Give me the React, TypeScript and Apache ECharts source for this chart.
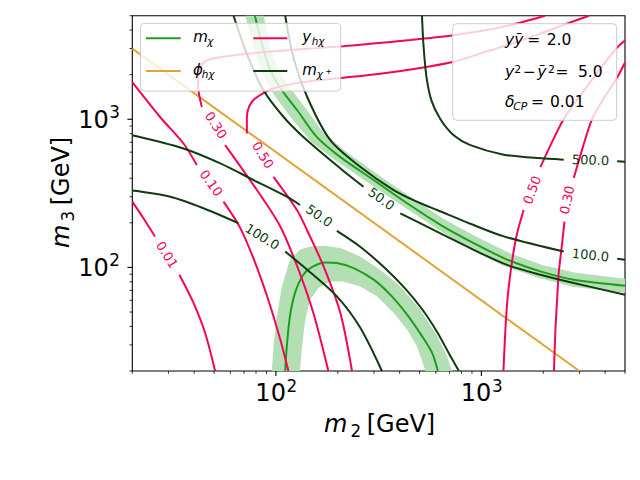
import React, { useEffect, useRef } from 'react';
import * as echarts from 'echarts';

// ---------- axes ----------
const X_MIN = 20;
const X_MAX = 5000;
const Y_MIN = 20;
const Y_MAX = 5000;
const xMajorTicks = [100, 1000];
const yMajorTicks = [100, 1000];
const xMinorTicks = [20, 30, 40, 50, 60, 70, 80, 90, 200, 300, 400, 500, 600, 700, 800, 900, 2000, 3000, 4000, 5000];
const yMinorTicks = [20, 30, 40, 50, 60, 70, 80, 90, 200, 300, 400, 500, 600, 700, 800, 900, 2000, 3000, 4000, 5000];

// ---------- phi_hχ ----------
const phiHChi = [[20, 3000], [3000, 20]];

// ---------- m_χ central curves ----------
const mChiUpper = [[79, 5000], [85.5, 3230], [94, 2140], [107, 1570], [127, 1150], [158, 760], [206, 555], [299, 389], [435, 271], [632, 194], [917, 146], [1334, 113], [1938, 94], [2816, 82.6], [5000, 75.3]];
const mChiArc = [[111, 20], [113, 29.4], [117, 46.8], [124, 67.6], [136, 89.3], [152, 101.6], [174, 108], [198, 107], [239, 99], [299, 82.7], [360, 65.5], [435, 48], [514, 34.4], [575, 26.6], [614, 20]];

// ---------- m_χ bands ----------
const bandUpperHi = [[87.2, 5000], [92.8, 3245], [101.5, 2237], [116, 1667], [136, 1242], [168, 831], [218, 609], [311, 427], [451, 299], [653, 213], [945, 161], [1369, 125], [1982, 104], [2871, 92], [5000, 84]];
const bandUpperLo = [[70.9, 5000], [77.5, 3146], [85.8, 2039], [98.1, 1450], [117, 1048], [149, 700], [194, 530], [285, 368], [417, 258], [611, 182], [884, 132.5], [1294, 102], [1895, 85.3], [2775, 74.2], [5000, 67.6]];
const bandArcOuter = [[95.6, 20], [97.3, 29.4], [101, 46.8], [107, 74.5], [117, 112.7], [131, 131.5], [147, 138.4], [171, 140], [206, 135], [257, 118.6], [322, 96.5], [403, 74.5], [505, 51.9], [609, 34.4], [681, 25.2], [720, 20]];
const bandArcInner = [[131, 20], [134, 29.4], [139, 44.5], [147, 60.7], [161, 72.7], [184, 80.5], [213.5, 80.5], [257, 74.5], [310, 63.8], [374, 49.4], [435, 38.1], [486, 29.4], [534, 20]];

// ---------- m_χ+ contours ----------
const mCp500a = [[514, 5000], [522, 3245], [540, 1947], [571, 1342], [632, 1000], [733, 780], [884, 669], [1284, 577], [1867, 547], [2517, 534]];
const mCp500b = [[4581, 520], [5000, 516]];
const mCp100Ua = [[111, 5000], [121, 2694], [142, 1413], [184, 722], [257, 478], [374, 333], [505, 271], [609, 244], [884, 197], [1284, 162], [2517, 128]];
const mCp100Ub = [[4581, 114.4], [5000, 112.7]];
const mCp50Ua = [[62.2, 5000], [72.2, 2766], [87, 1567], [109, 1036], [136, 760], [206, 466], [267, 350.5]];
const mCp50Ub = [[403, 232], [632, 170], [917, 131.5], [1334, 104], [1938, 89.3], [2816, 78.5], [5000, 65.5]];
const mCp100La = [[20, 330], [30.6, 300], [44.4, 251], [65.7, 199]];
const mCp100Lb = [[111, 128], [142, 96.5], [198, 63.8], [257, 39.3], [328, 20]];
const mCp50La = [[20, 780], [35.5, 635], [53.6, 504], [77.8, 389], [113, 300], [131, 264]];
const mCp50Lb = [[198, 176.5], [257, 138], [334, 101], [426, 72], [516, 52], [611, 36.4], [691, 26.7], [777, 20]];

// ---------- y_hχ contours ----------
const y001a = [[20, 278], [22.65, 215], [25.8, 161.6]];
const y001b = [[33.9, 89.3], [39.7, 57.6], [45.2, 36.2], [50.6, 20]];
const y010a = [[20, 1781], [27.3, 1036], [35.5, 686], [41.2, 491]];
const y010b = [[55.6, 278], [67, 185], [79.3, 107.5], [91.7, 60.7], [105, 32.6], [115, 20]];
const y030La = [[2040, 5000], [1385, 4321], [989, 3937], [733, 3689], [451, 3424], [288, 3229], [213.5, 3111], [127, 2956], [72.2, 2766], [51.6, 2600], [45.2, 2455], [42.8, 2237], [42, 2008], [41.8, 1693], [43.6, 1210]];
const y030Lb = [[56.6, 669], [80.8, 333], [105, 189], [127, 101.6], [152, 49.4], [180, 20]];
const y050La = [[3340, 5000], [2566, 4388], [1938, 3787], [1385, 3219], [989, 2779], [733, 2443], [504.5, 2220], [322, 2029], [213.5, 1907], [147, 1809], [111, 1693], [95.9, 1604], [85.8, 1484], [78.4, 1363], [74.1, 1223], [72.2, 1031], [72.2, 801]];
const y050Lb = [[97.3, 409], [126.6, 244], [141.6, 179], [170.6, 101.6], [205.7, 49.4], [234.6, 20]];
const y050Ra = [[1280, 20], [1309, 38.1], [1339, 60.7], [1392, 96.5], [1448, 138], [1506, 179], [1607, 244]];
const y050Rb = [[1938, 475.5], [2168, 666], [2517, 1005], [3035, 1450], [3800, 2203], [4581, 3050], [5000, 3400]];
const y030Ra = [[2255, 20], [2293, 38.1], [2337, 60.7], [2379, 91.7], [2472, 146], [2537, 204]];
const y030Rb = [[2816, 401], [3087, 619], [3462, 1005], [3972, 1406], [4581, 1916], [5000, 2417]];

// ---------- contour labels: [m2, m3, text, angle°] ----------
const chargedLabels: [number, number, string, number][] = [
  [3396, 530, '500.0', -2],
  [3396, 121, '100.0', -6],
  [326, 290, '50.0', -35],
  [162.5, 223, '50.0', -35],
  [85.8, 161, '100.0', -32],
];
const yukawaLabels: [number, number, string, number][] = [
  [29.5, 121.7, '0.01', -58],
  [48.4, 371, '0.10', -54],
  [51.1, 911, '0.30', -57],
  [86.4, 573, '0.50', -58],
  [1766, 333, '0.50', 69],
  [2615, 285, '0.30', 78],
];

// ---------- colours ----------
const GREEN = '#1a9f1a';
const BAND = '#b4dfb4';
const ORANGE = '#dfa53a';
const PINK = '#f5045a';
const DARK = '#0f3b0f';
const FONT = 'DejaVu Sans';

function mt(t: string, x: number, base: number, size: number, italic = true, z = 101): any {
  return {
    type: 'text',
    x,
    y: base - 0.35 * size,
    z,
    silent: true,
    style: {
      text: t,
      fontSize: size,
      fontFamily: FONT,
      fontStyle: italic ? 'italic' : 'normal',
      fill: '#000',
      align: 'left',
      textAlign: 'left',
      verticalAlign: 'middle',
      textVerticalAlign: 'middle',
    },
  };
}

function hline(x1: number, x2: number, y: number, color: string): any {
  return { type: 'line', z: 101, silent: true, shape: { x1, y1: y, x2, y2: y }, style: { stroke: color, lineWidth: 2 } };
}

function lineSeries(data: number[][], color: string, z = 3): any {
  return {
    type: 'line',
    data,
    symbol: 'none',
    showSymbol: false,
    smooth: 0.3,
    lineStyle: { color, width: 2 },
    itemStyle: { color },
    z,
    silent: true,
    clip: true,
    emphasis: { disabled: true },
  };
}

function bandSeries(edgeA: number[][], edgeB: number[][]): any {
  return {
    type: 'custom',
    silent: true,
    z: 1,
    data: [[100, 100]],
    renderItem: (_params: any, api: any) => ({
      type: 'polygon',
      shape: { points: [...edgeA, ...edgeB.slice().reverse()].map((p) => api.coord(p)) },
      style: { fill: BAND, stroke: 'none' },
    }),
  };
}

function labelSeries(labels: [number, number, string, number][], color: string): any {
  return {
    type: 'custom',
    silent: true,
    z: 6,
    data: labels.map((l) => [l[0], l[1], l[3]]),
    renderItem: (params: any, api: any) => {
      const p = api.coord([api.value(0), api.value(1)]);
      return {
        type: 'text',
        x: p[0],
        y: p[1],
        rotation: (api.value(2) * Math.PI) / 180,
        style: {
          text: labels[params.dataIndex][2],
          fill: color,
          fontSize: 13,
          fontFamily: FONT,
          align: 'center',
          textAlign: 'center',
          verticalAlign: 'middle',
          textVerticalAlign: 'middle',
        },
      };
    },
  };
}

function tickText(t: string, x: number, y: number, size: number, align: string): any {
  return {
    type: 'text',
    x,
    y,
    style: { text: t, fontSize: size, fontFamily: FONT, fill: '#000', align, textAlign: align, verticalAlign: 'middle', textVerticalAlign: 'middle' },
  };
}

function xTickSeries(): any {
  const data = [...xMinorTicks.map((v) => [v, Y_MIN, 0]), ...xMajorTicks.map((v) => [v, Y_MIN, 1])];
  return {
    type: 'custom',
    silent: true,
    z: 10,
    data,
    renderItem: (_params: any, api: any) => {
      const v = api.value(0);
      const major = api.value(2) === 1;
      const p = api.coord([v, api.value(1)]);
      const children: any[] = [
        { type: 'line', shape: { x1: p[0], y1: p[1], x2: p[0], y2: p[1] + (major ? 4.9 : 2.8) }, style: { stroke: '#000', lineWidth: major ? 1.1 : 0.8 } },
      ];
      if (major) {
        const exp = String(Math.round(Math.log10(v)));
        children.push(tickText('10', p[0] + 10, p[1] + 22, 24, 'right'));
        children.push(tickText(exp, p[0] + 10.5, p[1] + 15, 16.8, 'left'));
      }
      return { type: 'group', children };
    },
  };
}

function yTickSeries(): any {
  const data = [...yMinorTicks.map((v) => [X_MIN, v, 0]), ...yMajorTicks.map((v) => [X_MIN, v, 1])];
  return {
    type: 'custom',
    silent: true,
    z: 10,
    data,
    renderItem: (_params: any, api: any) => {
      const v = api.value(1);
      const major = api.value(2) === 1;
      const p = api.coord([api.value(0), v]);
      const children: any[] = [
        { type: 'line', shape: { x1: p[0], y1: p[1], x2: p[0] - (major ? 4.9 : 2.8), y2: p[1] }, style: { stroke: '#000', lineWidth: major ? 1.1 : 0.8 } },
      ];
      if (major) {
        const exp = String(Math.round(Math.log10(v)));
        children.push(tickText('10', p[0] - 23.5, p[1] + 1, 24, 'right'));
        children.push(tickText(exp, p[0] - 23, p[1] - 7, 16.8, 'left'));
      }
      return { type: 'group', children };
    },
  };
}

function buildOption(): any {
  const legendLeft = [
    { type: 'rect', z: 100, silent: true, shape: { x: 140.5, y: 23.3, width: 200.2, height: 67.8, r: 4 }, style: { fill: 'rgba(255,255,255,0.8)', stroke: '#cccccc', lineWidth: 1 } },
    hline(146, 180.7, 38.3, GREEN),
    hline(146, 180.7, 71, ORANGE),
    hline(253.3, 287.3, 38.3, PINK),
    hline(253.3, 287.3, 71, DARK),
    mt('m', 193.3, 42.3, 15),
    mt('χ', 207.3, 44.8, 10.5),
    mt('ϕ', 193, 75, 15),
    mt('hχ', 201.7, 77.4, 10.5),
    mt('y', 302.3, 42.3, 15),
    mt('hχ', 311.7, 44.8, 10.5),
    mt('m', 302.3, 74.8, 15),
    mt('χ', 316.7, 77.3, 10.5),
    mt('+', 325.5, 73.9, 7.5, false),
  ];
  const legendRight = [
    { type: 'rect', z: 100, silent: true, shape: { x: 452.7, y: 23.7, width: 164, height: 96.6, r: 4 }, style: { fill: 'rgba(255,255,255,0.8)', stroke: '#cccccc', lineWidth: 1 } },
    mt('yỹ', 505, 45.3, 15.5),
    mt('=', 527.3, 45.3, 15.5, false),
    mt('2.0', 546.7, 45.3, 15.5, false),
    mt('y', 505, 77, 15.5),
    mt('2', 514.3, 73.2, 10.85, false),
    mt('−', 523, 77, 15.5, false),
    mt('ỹ', 537.3, 77, 15.5),
    mt('2', 548, 73.2, 10.85, false),
    mt('=', 555.5, 77, 15.5, false),
    mt('5.0', 578, 77, 15.5, false),
    mt('δ', 505, 107, 15.5),
    mt('CP', 513.3, 109.8, 10.85),
    mt('=', 531, 107, 15.5, false),
    mt('0.01', 550, 107, 15.5, false),
  ];
  const titles = [
    mt('m', 324, 432.7, 24),
    mt('2', 350.5, 437.3, 16.8, false),
    mt('[GeV]', 366.7, 432.7, 24, false),
    {
      type: 'group',
      x: 69,
      y: 193.5,
      rotation: Math.PI / 2,
      children: [mt('m', -54.5, 0, 24), mt('3', -28, 4.6, 16.8, false), mt('[GeV]', -11.8, 0, 24, false)],
    },
  ];

  const hidden = { show: false };
  return {
    animation: false,
    backgroundColor: '#ffffff',
    grid: { left: 132.3, top: 15.7, width: 492.7, height: 355.3, show: true, borderColor: '#000', borderWidth: 1.1, backgroundColor: 'transparent' },
    xAxis: { type: 'log', logBase: 10, min: X_MIN, max: X_MAX, axisLine: hidden, axisTick: hidden, axisLabel: hidden, splitLine: hidden },
    yAxis: { type: 'log', logBase: 10, min: Y_MIN, max: Y_MAX, axisLine: hidden, axisTick: hidden, axisLabel: hidden, splitLine: hidden },
    series: [
      bandSeries(bandUpperHi, bandUpperLo),
      bandSeries(bandArcOuter, bandArcInner),
      lineSeries(mChiUpper, GREEN, 3),
      lineSeries(mChiArc, GREEN, 3),
      lineSeries(phiHChi, ORANGE, 3),
      lineSeries(y001a, PINK, 4),
      lineSeries(y001b, PINK, 4),
      lineSeries(y010a, PINK, 4),
      lineSeries(y010b, PINK, 4),
      lineSeries(y030La, PINK, 4),
      lineSeries(y030Lb, PINK, 4),
      lineSeries(y050La, PINK, 4),
      lineSeries(y050Lb, PINK, 4),
      lineSeries(y050Ra, PINK, 4),
      lineSeries(y050Rb, PINK, 4),
      lineSeries(y030Ra, PINK, 4),
      lineSeries(y030Rb, PINK, 4),
      lineSeries(mCp500a, DARK, 5),
      lineSeries(mCp500b, DARK, 5),
      lineSeries(mCp100Ua, DARK, 5),
      lineSeries(mCp100Ub, DARK, 5),
      lineSeries(mCp50Ua, DARK, 5),
      lineSeries(mCp50Ub, DARK, 5),
      lineSeries(mCp100La, DARK, 5),
      lineSeries(mCp100Lb, DARK, 5),
      lineSeries(mCp50La, DARK, 5),
      lineSeries(mCp50Lb, DARK, 5),
      labelSeries(chargedLabels, DARK),
      labelSeries(yukawaLabels, PINK),
      xTickSeries(),
      yTickSeries(),
    ],
    graphic: { elements: [...legendLeft, ...legendRight, ...titles] },
  };
}

export default function App() {
  const ref = useRef<HTMLDivElement>(null);
  useEffect(() => {
    if (!ref.current) return;
    const chart = echarts.init(ref.current, null, { renderer: 'svg' });
    chart.setOption(buildOption());
    return () => chart.dispose();
  }, []);
  return <div ref={ref} style={{ position: 'fixed', left: 0, top: 0, width: 640, height: 480, background: '#fff' }} />;
}
